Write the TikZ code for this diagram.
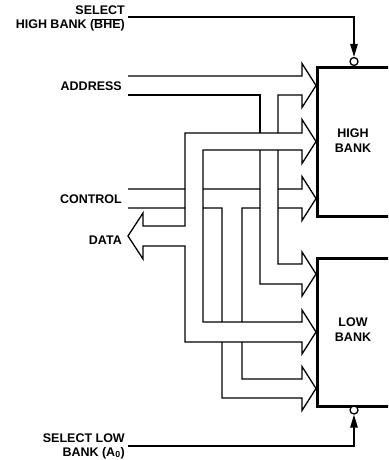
\documentclass[tikz,border=0pt]{standalone}
\usepackage{fontspec}
\setmainfont{Liberation Sans}
\usetikzlibrary{arrows.meta}
\begin{document}
\begin{tikzpicture}[x=1pt,y=-1pt,
  bus/.style={line width=1.3pt, line join=miter, line cap=butt},
  lbl/.style={font=\fontsize{12.5}{14}\selectfont\bfseries, inner sep=0pt},
  bank/.style={draw, line width=3pt, anchor=north west, minimum width=90pt, inner sep=0pt},
  bubble/.style={circle, draw, fill=white, line width=1.3pt, minimum size=8pt, inner sep=0pt},
  sel/.style={line width=1.3pt, -{Triangle[length=13pt,width=7.5pt]}}]
\useasboundingbox (0,0) rectangle (388,460);
\begin{scope}
\clip (0,0) rectangle (388,460);
% banks
\node[bank, minimum height=149pt] (high) at (316,66) {};
\node[bank, minimum height=148pt] (low) at (316,257) {};
\node[lbl, anchor=base] (hightxt1) at (353,137) {HIGH};
\node[lbl, anchor=base] (hightxt2) at (353,152) {BANK};
\node[lbl, anchor=base] (lowtxt1) at (353,326) {LOW};
\node[lbl, anchor=base] (lowtxt2) at (353,341) {BANK};
% select lines
\node[bubble] (hb) at (354,61.5) {};
\node[bubble] (lb) at (354,410) {};
\node[lbl, anchor=base east] (sh1) at (125,15) {SELECT};
\node[lbl, anchor=base east] (sh2) at (125,29) {HIGH BANK ($\overline{\hbox{BHE}}$)};
\node[lbl, anchor=base east] (sl1) at (125,442) {SELECT LOW};
\node[lbl, anchor=base east] (sl2) at (125,456) {BANK (A\textsubscript{0})};
\coordinate (hs) at (128,17);
\coordinate (ls) at (128,446);
\draw[sel] (hs) -| (hb.north);
\draw[sel] (ls) -| (lb.south);
% bus labels
\node[lbl, anchor=base east] (addr) at (122,90.5) {ADDRESS};
\node[lbl, anchor=base east] (ctrl) at (122,203) {CONTROL};
\node[lbl, anchor=base east] (data) at (122,244) {DATA};
% address bus
\draw[bus] (128,76) -- (302,76) -- (302,63.5) -- (316,85.5) -- (302,107.5) -- (302,95) -- (278,95) -- (278,133);
\draw[bus] (128,95) -- (260,95) -- (260,133);
\draw[bus] (260,150) -- (260,284) -- (302,284) -- (302,296) -- (316,274) -- (302,252) -- (302,264) -- (278,264) -- (278,150);
% data bus
\draw[bus] (203,150) -- (302,150) -- (302,163.5) -- (316,141.5) -- (302,119.5) -- (302,133) -- (185,133)
  -- (185,226) -- (143,226) -- (143,213) -- (128,236) -- (143,259) -- (143,246) -- (185,246)
  -- (185,342) -- (302,342) -- (302,354) -- (316,332) -- (302,310) -- (302,322) -- (203,322) -- cycle;
% control bus
\draw[bus] (128,189) -- (185,189) (203,189) -- (260,189)
  (278,189) -- (302,189) -- (302,176.5) -- (316,198.5) -- (302,220.5) -- (302,208) -- (278,208)
  (260,208) -- (242,208) -- (242,322)
  (242,342) -- (242,379) -- (302,379) -- (302,366.5) -- (316,388.5) -- (302,410.5) -- (302,398) -- (222,398) -- (222,342)
  (222,322) -- (222,208) -- (203,208)
  (185,208) -- (128,208);
\end{scope}
\end{tikzpicture}
\end{document}
